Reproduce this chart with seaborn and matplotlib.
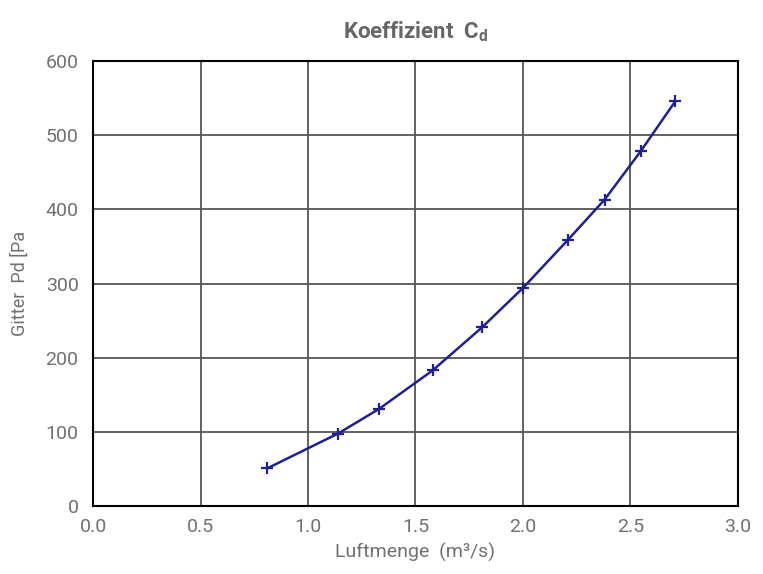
import pandas as pd
import seaborn as sns
import matplotlib.pyplot as plt

# Luftmenge (m³/s) und Gitter Pd (Pa)
luftmenge = [0.81, 1.14, 1.33, 1.58, 1.81, 2.00, 2.21, 2.38, 2.55, 2.71]
druck = [51, 98, 131, 183, 241, 294, 359, 413, 479, 546]

x_ticks = [0.0, 0.5, 1.0, 1.5, 2.0, 2.5, 3.0]
y_ticks = [0, 100, 200, 300, 400, 500, 600]

df = pd.DataFrame({'x': luftmenge, 'y': druck})

sns.set_style('white')
plt.rcParams['font.family'] = ['Roboto', 'DejaVu Sans']
grau = '#707070'

fig = plt.figure(figsize=(7.63, 5.74), dpi=100)
ax = fig.add_axes([0.122, 0.118, 0.845, 0.776])

sns.lineplot(data=df, x='x', y='y', ax=ax, color='#1f1f96', linewidth=1.8,
             marker='+', markersize=9, markeredgewidth=1.6, markeredgecolor='#1f1f96')

ax.set_xlim(0, 3.0)
ax.set_ylim(0, 600)
ax.set_xticks(x_ticks)
ax.set_yticks(y_ticks)
ax.set_xticklabels([f'{v:.1f}' for v in x_ticks])
ax.grid(True, color='#555555', linewidth=1.3)
ax.set_axisbelow(True)
for s in ax.spines.values():
    s.set_color('black')
    s.set_linewidth(1.5)
ax.tick_params(axis='y', direction='out', length=7, color=grau, labelsize=14, labelcolor=grau)
ax.tick_params(axis='x', direction='inout', length=10, color=grau, labelsize=14, labelcolor=grau)

ax.set_xlabel('Luftmenge  (m³/s)', fontsize=14, color=grau, labelpad=5)
ax.set_ylabel('Gitter  Pd [Pa', fontsize=13, color=grau, labelpad=12)
ax.set_title('Koeffizient  C$_\\mathregular{d}$', fontsize=16, fontweight='bold', color='#666666', pad=16)

fig.savefig('out.png', dpi=100)
